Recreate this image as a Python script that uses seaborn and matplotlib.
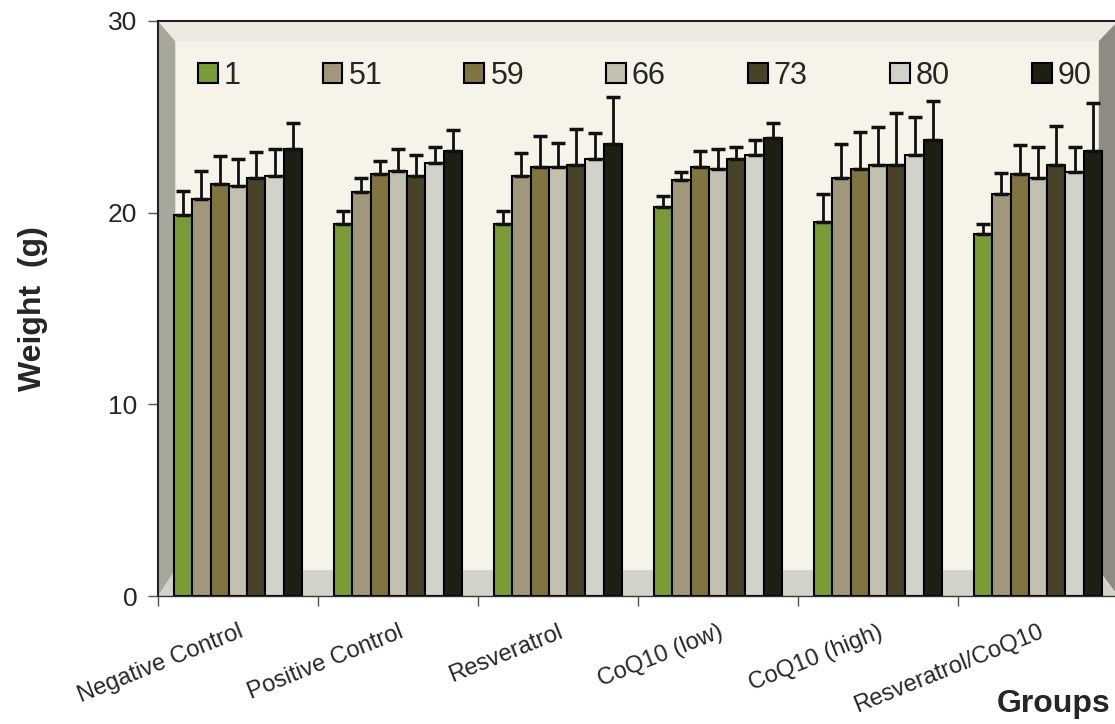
import numpy as np
import pandas as pd
import seaborn as sns
import matplotlib.pyplot as plt
from matplotlib.patches import Polygon, Patch

# data
groups = ["Negative Control", "Positive Control", "Resveratrol",
          "CoQ10 (low)", "CoQ10 (high)", "Resveratrol/CoQ10"]
days = ["1", "51", "59", "66", "73", "80", "90"]

day1 = [19.9, 19.4, 19.4, 20.3, 19.5, 18.9]
day51 = [20.7, 21.1, 21.9, 21.7, 21.8, 21.0]
day59 = [21.5, 22.0, 22.4, 22.4, 22.3, 22.0]
day66 = [21.4, 22.2, 22.4, 22.3, 22.5, 21.8]
day73 = [21.8, 21.9, 22.5, 22.8, 22.5, 22.5]
day80 = [21.9, 22.6, 22.8, 23.0, 23.0, 22.1]
day90 = [23.3, 23.2, 23.6, 23.9, 23.8, 23.2]

err1 = [1.25, 0.7, 0.7, 0.55, 1.45, 0.5]
err51 = [1.45, 0.7, 1.2, 0.4, 1.8, 1.05]
err59 = [1.45, 0.7, 1.6, 0.8, 1.9, 1.55]
err66 = [1.4, 1.1, 1.25, 1.0, 1.95, 1.65]
err73 = [1.35, 1.1, 1.85, 0.65, 2.7, 2.0]
err80 = [1.4, 0.85, 1.35, 0.8, 2.0, 1.3]
err90 = [1.4, 1.1, 2.45, 0.8, 2.0, 2.5]

colors = ["#7a9c38", "#a09878", "#807440", "#c2c0ae", "#484229", "#d2d2ca", "#1e1e15"]

values = [day1, day51, day59, day66, day73, day80, day90]
errors = [err1, err51, err59, err66, err73, err80, err90]

rows = []
for d, vals, errs in zip(days, values, errors):
    for g, v, e in zip(groups, vals, errs):
        rows.append({"group": g, "day": d, "weight": v, "err": e})
df = pd.DataFrame(rows)

sns.set_style("white")
plt.rcParams["font.family"] = ["Liberation Sans", "DejaVu Sans"]

fig = plt.figure(figsize=(11.15, 7.24), dpi=100)
ax = fig.add_axes([158 / 1115, 128 / 724, 960 / 1115, 575 / 724])
ax.set_facecolor("#f6f4e9")

# bevelled wall / floor
bev = [
    ([(0, 0), (0, 1), (0.018, 0.965), (0.018, 0.045)], "#a8a79c"),
    ([(0, 1), (1, 1), (0.98, 0.965), (0.018, 0.965)], "#eceae0"),
    ([(1, 1), (1, 0), (0.98, 0.045), (0.98, 0.965)], "#8e8c82"),
    ([(0, 0), (1, 0), (0.98, 0.045), (0.018, 0.045)], "#d3d2c8"),
]
for pts, c in bev:
    ax.add_patch(Polygon(pts, closed=True, transform=ax.transAxes,
                         facecolor=c, edgecolor="none", zorder=0))

sns.barplot(data=df, x="group", y="weight", hue="day", order=groups,
            hue_order=days, palette=colors, width=0.8, errorbar=None,
            edgecolor="black", linewidth=1.5, saturation=1, ax=ax, zorder=2)

# upward error bars on each bar
for cont, errs in zip(ax.containers, errors):
    xs = [p.get_x() + p.get_width() / 2 for p in cont.patches]
    ys = [p.get_height() for p in cont.patches]
    ax.errorbar(xs, ys, yerr=[np.zeros(len(errs)), errs], fmt="none",
                ecolor="#111111", elinewidth=2, capsize=5, capthick=2.5, zorder=3)

ax.set_ylim(0, 30)
ax.set_xlim(-0.5, 5.5)
ax.set_yticks([0, 10, 20, 30])
ax.tick_params(axis="y", labelsize=19, length=7, width=1, color="#555555",
               direction="out", left=True, pad=8)
ax.set_xticks(np.arange(6))
ax.set_xticklabels(groups, rotation=22, ha="right", rotation_mode="anchor", fontsize=17)
ax.tick_params(axis="x", which="major", length=0, pad=18)
ax.set_xticks(np.arange(-0.5, 6, 1), minor=True)
ax.tick_params(axis="x", which="minor", length=7, width=1, color="#555555", bottom=True)

ax.set_xlabel("")
ax.set_ylabel("Weight  (g)", fontsize=23, fontweight="bold")
ax.yaxis.set_label_coords(-0.115, 0.5)

for side in ["top", "left"]:
    ax.spines[side].set_color("#222222")
    ax.spines[side].set_linewidth(1.5)
ax.spines["bottom"].set_color("#333333")
ax.spines["bottom"].set_linewidth(1)
ax.spines["right"].set_visible(False)

handles = [Patch(facecolor=c, edgecolor="black", linewidth=1.5) for c in colors]
ax.legend(handles, days, loc="center", bbox_to_anchor=(0.507, 0.905), ncol=7,
          frameon=False, fontsize=22, handlelength=0.65, handleheight=0.65,
          handletextpad=0.2, columnspacing=2.68)

fig.text(1110 / 1115, 20 / 724, "Groups", ha="right", va="center",
         fontsize=23, fontweight="bold")

fig.savefig("out.png", dpi=100)
